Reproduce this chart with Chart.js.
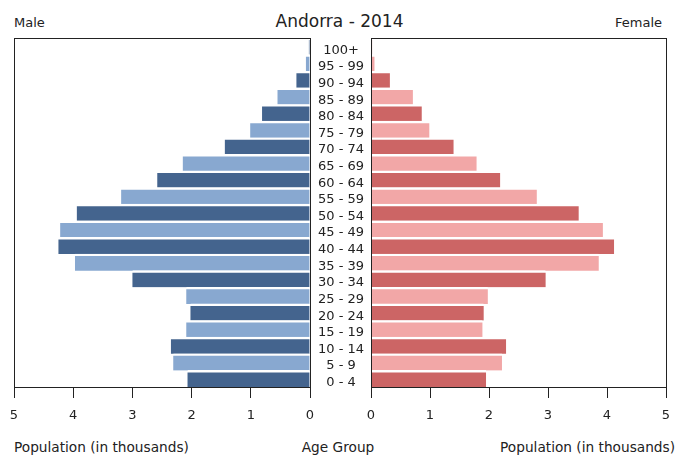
<!DOCTYPE html>
<html>
<head>
<meta charset="utf-8">
<script src="https://cdn.jsdelivr.net/npm/chart.js@4/dist/chart.umd.min.js"></script>
<style>
  body { margin: 0; background: #fff; }
  #wrap { position: relative; width: 676px; height: 455px; font-family: "DejaVu Sans", sans-serif; color: #222; overflow: hidden; }
  .txt { position: absolute; white-space: nowrap; line-height: 1; }
  canvas { position: absolute; top: 0; }
</style>
</head>
<body>
<div id="wrap">
  <div class="txt" style="left:14px; top:16px; font-size:13px;">Male</div>
  <div class="txt" style="left:0; width:676px; top:13px; font-size:17px; text-align:center; padding-left:3px; box-sizing:border-box;">Andorra - 2014</div>
  <div class="txt" style="right:14px; top:16px; font-size:13px;">Female</div>
  <canvas id="maleChart" width="320" height="430" style="left:0"></canvas>
  <canvas id="femaleChart" width="366" height="430" style="left:310px"></canvas>
  <div class="txt" style="left:14px; top:441px; font-size:13.7px;">Population (in thousands)</div>
  <div class="txt" style="left:0; width:676px; top:441px; font-size:13.7px; text-align:center;">Age Group</div>
  <div class="txt" style="right:1px; top:441px; font-size:13.7px;">Population (in thousands)</div>
</div>
<script>
// --- Datos (de arriba hacia abajo) ---
const ageGroups = ['100+', '95 - 99', '90 - 94', '85 - 89', '80 - 84', '75 - 79', '70 - 74',
    '65 - 69', '60 - 64', '55 - 59', '50 - 54', '45 - 49', '40 - 44', '35 - 39',
    '30 - 34', '25 - 29', '20 - 24', '15 - 19', '10 - 14', '5 - 9', '0 - 4'];
const maleValues = [0.02, 0.07, 0.23, 0.55, 0.81, 1.01, 1.44, 2.15, 2.58, 3.19, 3.94,
    4.22, 4.25, 3.97, 3.00, 2.09, 2.02, 2.09, 2.35, 2.31, 2.07];
const femaleValues = [0.02, 0.06, 0.32, 0.71, 0.86, 0.99, 1.40, 1.79, 2.19, 2.81, 3.52,
    3.93, 4.12, 3.86, 2.96, 1.98, 1.91, 1.89, 2.29, 2.22, 1.95];
const axisMin = 0;
const axisMax = 5;

const lineColor = '#222';
const tickFont = { family: "'DejaVu Sans', sans-serif", size: 13 };

// colores alternos: oscuro en índices pares
const maleColors = ageGroups.map((_, i) => i % 2 === 0 ? '#44648e' : '#88a8d0');
const femaleColors = ageGroups.map((_, i) => i % 2 === 0 ? '#cc6565' : '#f2a7a7');

// marco alrededor del área de datos
const framePlugin = {
    id: 'frame',
    afterDraw(chart) {
        const { ctx, chartArea: a } = chart;
        ctx.save();
        ctx.strokeStyle = lineColor;
        ctx.lineWidth = 1;
        ctx.strokeRect(Math.round(a.left) + 0.5, Math.round(a.top) + 0.5,
            Math.round(a.right - a.left), Math.round(a.bottom - a.top));
        ctx.restore();
    }
};

function xScale(reverse) {
    return {
        type: 'linear',
        reverse: reverse,
        min: axisMin,
        max: axisMax,
        position: 'bottom',
        // altura fija y sin relleno lateral: el layout.padding manda
        afterFit: s => { s.height = 43; s.paddingLeft = 0; s.paddingRight = 0; },
        ticks: { stepSize: 1, color: lineColor, font: tickFont, padding: 10, maxRotation: 0 },
        grid: { display: true, drawOnChartArea: false, drawTicks: true, tickLength: 11, color: lineColor },
        border: { display: false }
    };
}

// barras pegadas al borde inferior de cada banda (hueco blanco arriba)
const barDefaults = {
    barPercentage: 1.0,
    categoryPercentage: 1.0,
    borderColor: '#fff',
    borderWidth: { top: 2.4, right: 0, bottom: 0, left: 0 },
    borderSkipped: false
};

const commonOptions = {
    indexAxis: 'y',
    responsive: false,
    animation: false,
    devicePixelRatio: 1,
    plugins: { legend: { display: false }, tooltip: { enabled: false } }
};

// --- Hombres ---
new Chart(document.getElementById('maleChart'), {
    type: 'bar',
    data: {
        labels: ageGroups,
        datasets: [{ data: maleValues, backgroundColor: maleColors, ...barDefaults }]
    },
    options: {
        ...commonOptions,
        layout: { padding: { left: 14, right: 10, top: 38, bottom: 0 } },
        scales: {
            x: xScale(true),
            y: { type: 'category', display: false }
        }
    },
    plugins: [framePlugin]
});

// --- Mujeres (con etiquetas de grupos de edad en el eje y) ---
new Chart(document.getElementById('femaleChart'), {
    type: 'bar',
    data: {
        labels: ageGroups,
        datasets: [{ data: femaleValues, backgroundColor: femaleColors, ...barDefaults }]
    },
    options: {
        ...commonOptions,
        layout: { padding: { left: 0, right: 10, top: 38, bottom: 0 } },
        scales: {
            x: xScale(false),
            y: {
                type: 'category',
                position: 'left',
                afterFit: s => { s.width = 61; s.paddingTop = 0; s.paddingBottom = 0; },
                ticks: { color: lineColor, font: tickFont, crossAlign: 'center', padding: 7, labelOffset: 4, autoSkip: false },
                grid: { display: false, drawTicks: false },
                border: { display: false }
            }
        }
    },
    plugins: [framePlugin]
});
</script>
</body>
</html>
